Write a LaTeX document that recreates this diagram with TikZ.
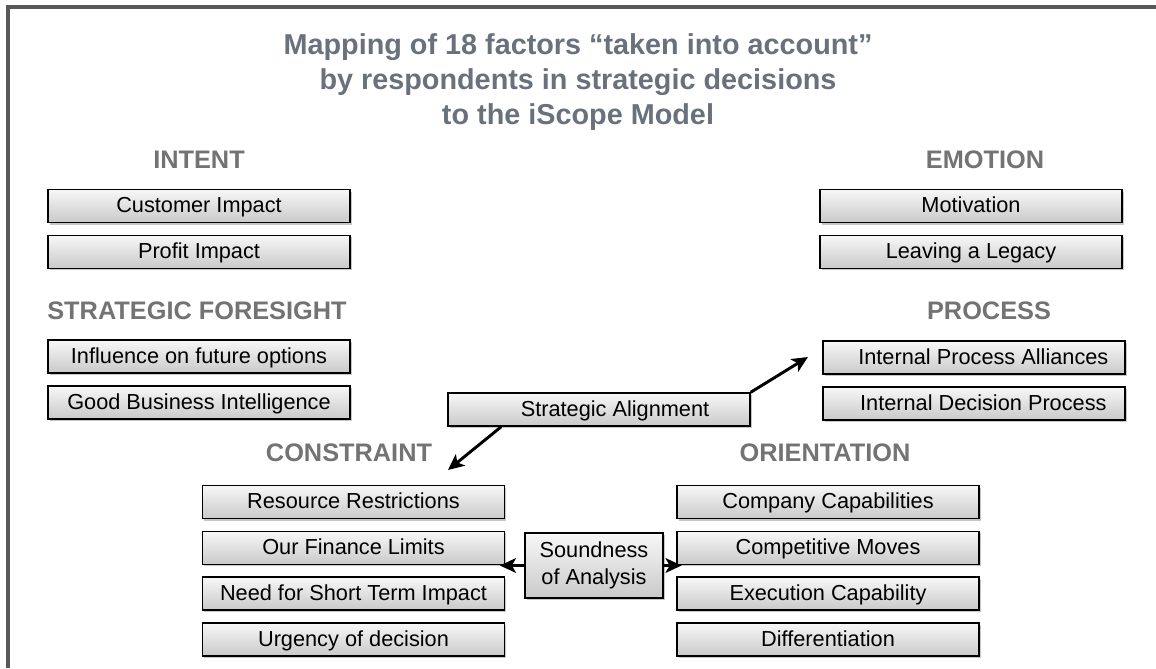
\documentclass[tikz,border=0pt]{standalone}
\usepackage{fontspec}
\setmainfont{Liberation Sans}
\usetikzlibrary{arrows.meta, positioning, shadows}

\definecolor{framegray}{RGB}{89,89,89}
\definecolor{titlegray}{RGB}{105,114,124}
\definecolor{headgray}{RGB}{115,115,115}

\begin{document}
\begin{tikzpicture}[x=0.75pt, y=-0.75pt]
	\tikzset{->, >={Stealth[length=12pt, width=11pt, inset=3pt]}, node distance=8.5pt,
		factor/.style={draw=black, line width=1.1pt, top color=gray!6, bottom color=gray!42,
			minimum width=226.5pt, minimum height=24.75pt, inner sep=0pt,
			text height=12.6pt, text depth=2.4pt,
			font=\fontsize{16.3}{18}\selectfont,
			drop shadow={shadow xshift=1.4pt, shadow yshift=-1.6pt, opacity=0.45}},
		heading/.style={text=headgray, font=\fontsize{19}{21}\selectfont\bfseries},
		arr/.style={line width=2.2pt, draw=black}}

	\useasboundingbox (0,0) rectangle (1156,668);
	\draw[-, line width=3pt, framegray] (8,668) -- (8,7) -- (1156,7);

	% title
	\node[text=titlegray, align=center, font=\fontsize{21.6}{26}\selectfont\bfseries] (title) at (578,82)
		{Mapping of 18 factors “taken into account”\\ by respondents in strategic decisions\\ to the iScope Model};

	% headings
	\node[heading] (hint) at (199,160) {INTENT};
	\node[heading] (hemo) at (985,160) {EMOTION};
	\node[heading] (hfor) at (197,311) {STRATEGIC FORESIGHT};
	\node[heading] (hpro) at (989,311) {PROCESS};
	\node[heading] (hcon) at (349,453) {CONSTRAINT};
	\node[heading] (hori) at (825,453) {ORIENTATION};

	% intent and emotion
	\node[factor] (cust) at (199,206) {Customer Impact};
	\node[factor, below=of cust] (prof) {Profit Impact};
	\node[factor] (moti) at (971,206) {Motivation};
	\node[factor, below=of moti] (lega) {Leaving a Legacy};

	% foresight and process
	\node[factor] (infl) at (199,356.5) {Influence on future options};
	\node[factor, below=of infl] (intl) {Good Business Intelligence};
	\node[factor] (alli) at (974,357.5) {\hspace{14pt}Internal Process Alliances};
	\node[factor, below=of alli] (deci) {\hspace{14pt}Internal Decision Process};

	% alignment
	\node[factor] (align) at (599,409.5) {\hspace{24pt}Strategic Alignment};

	% constraint
	\node[factor] (reso) at (353.5,502) {Resource Restrictions};
	\node[factor, below=of reso] (fina) {Our Finance Limits};
	\node[factor, below=of fina] (shor) {Need for Short Term Impact};
	\node[factor, below=of shor] (urge) {Urgency of decision};

	% orientation
	\node[factor] (capa) at (828,502) {Company Capabilities};
	\node[factor, below=of capa] (comp) {Competitive Moves};
	\node[factor, below=of comp] (exec) {Execution Capability};
	\node[factor, below=of exec] (diff) {Differentiation};

	% soundness
	\node[factor, minimum width=103.5pt, minimum height=48.75pt, align=center,
		text height=, text depth=, font=\fontsize{16.3}{20}\selectfont] (sound) at (594,565.5) {Soundness\\ of Analysis};

	\coordinate (conTip) at (448,470);
	\coordinate (proTip) at (808,357);

	\draw[arr] (align.190) -- (conTip);
	\draw[arr] (align.north east) -- (proTip);
	\draw[arr, shorten >=-4pt] (sound.west) -- (sound.west -| fina.east);
	\draw[arr, shorten >=-4pt] (sound.east) -- (sound.east -| comp.west);
\end{tikzpicture}
\end{document}
